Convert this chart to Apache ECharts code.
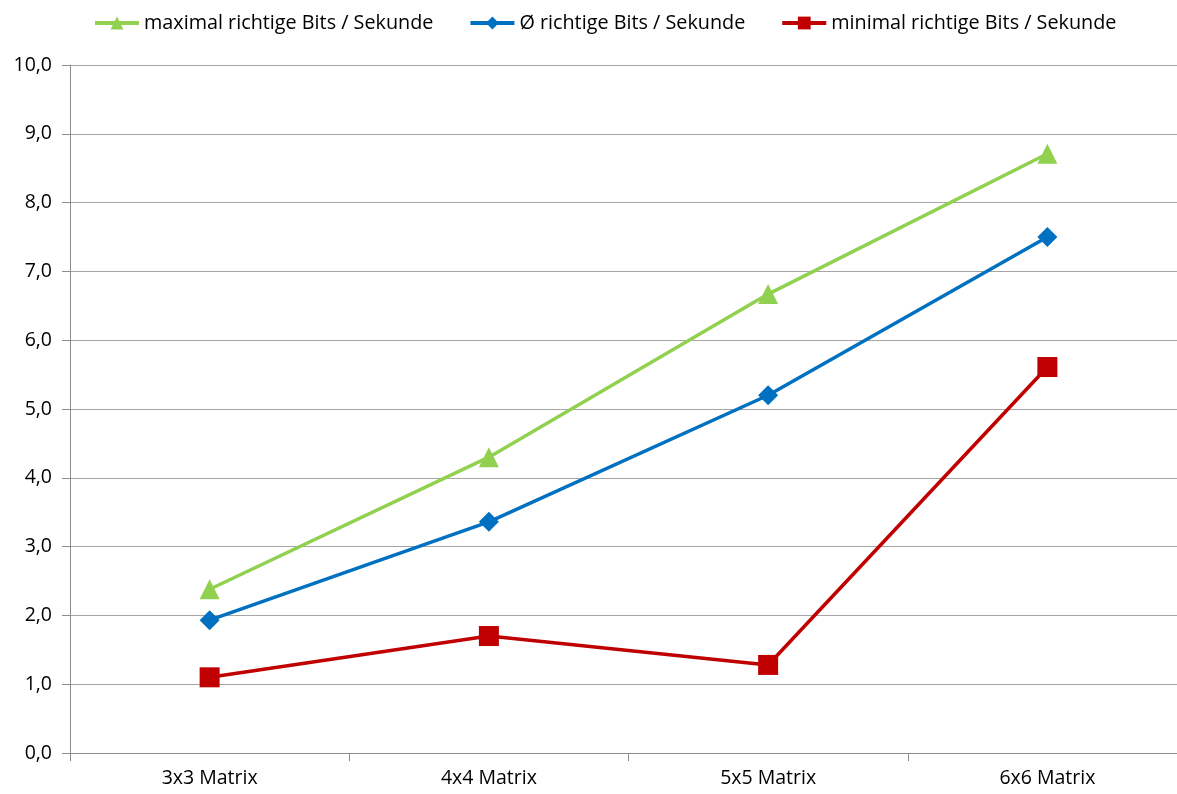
<!DOCTYPE html>
<html>
<head>
<meta charset="utf-8">
<script src="https://cdn.jsdelivr.net/npm/echarts@6/dist/echarts.min.js"></script>
<style>
  html, body { margin: 0; padding: 0; background: #fff; }
  #chart { width: 1177px; height: 794px; }
</style>
</head>
<body>
<div id="chart"></div>
<script>
// Matrix sizes on the x axis
const categories = ['3x3 Matrix', '4x4 Matrix', '5x5 Matrix', '6x6 Matrix'];

// Correct bits per second
const maxBits = [2.38, 4.30, 6.67, 8.71];
const avgBits = [1.93, 3.36, 5.20, 7.50];
const minBits = [1.10, 1.70, 1.28, 5.61];

const seriesNames = [
  'maximal richtige Bits / Sekunde',
  'Ø richtige Bits / Sekunde',
  'minimal richtige Bits / Sekunde'
];

const FONT = '"Open Sans", "Noto Sans", sans-serif';
const chart = echarts.init(document.getElementById('chart'), null, { renderer: 'canvas' });

function lineSeries(name, data, color, symbol) {
  return {
    name: name,
    type: 'line',
    data: data,
    symbol: symbol,
    symbolSize: 20,
    showAllSymbol: true,
    lineStyle: { color: color, width: 3.5 },
    itemStyle: { color: color },
    emphasis: { disabled: true },
    animation: false
  };
}

chart.setOption({
  backgroundColor: '#ffffff',
  animation: false,
  legend: {
    top: 8,
    left: 88,
    itemWidth: 44,
    itemHeight: 16,
    itemGap: 35,
    lineStyle: { width: 4 },
    textStyle: { fontFamily: FONT, fontSize: 19.8, color: '#000' },
    data: seriesNames
  },
  // plot area runs slightly past the right edge of the canvas
  grid: { left: 70, right: -10, top: 65, bottom: 41, outerBoundsMode: 'none', containLabel: false },
  xAxis: {
    type: 'category',
    data: categories,
    boundaryGap: true,
    axisLine: { lineStyle: { color: '#8c8c8c', width: 1 } },
    axisTick: { show: true, length: 8, lineStyle: { color: '#8c8c8c' } },
    axisLabel: { fontFamily: FONT, fontSize: 19.5, color: '#000', margin: 15 },
    splitLine: { show: false }
  },
  yAxis: {
    type: 'value',
    min: 0,
    max: 10,
    interval: 1,
    axisLine: { show: true, lineStyle: { color: '#8c8c8c', width: 1 } },
    axisTick: { show: true, length: 8, lineStyle: { color: '#8c8c8c' } },
    axisLabel: {
      fontFamily: FONT, fontSize: 19.5, color: '#000', margin: 18,
      formatter: v => v.toFixed(1).replace('.', ',')
    },
    splitLine: { lineStyle: { color: '#a6a6a6', width: 1 } }
  },
  series: [
    lineSeries(seriesNames[0], maxBits, '#92D050', 'triangle'),
    lineSeries(seriesNames[1], avgBits, '#0070C0', 'diamond'),
    lineSeries(seriesNames[2], minBits, '#C00000', 'rect')
  ]
});
</script>
</body>
</html>
